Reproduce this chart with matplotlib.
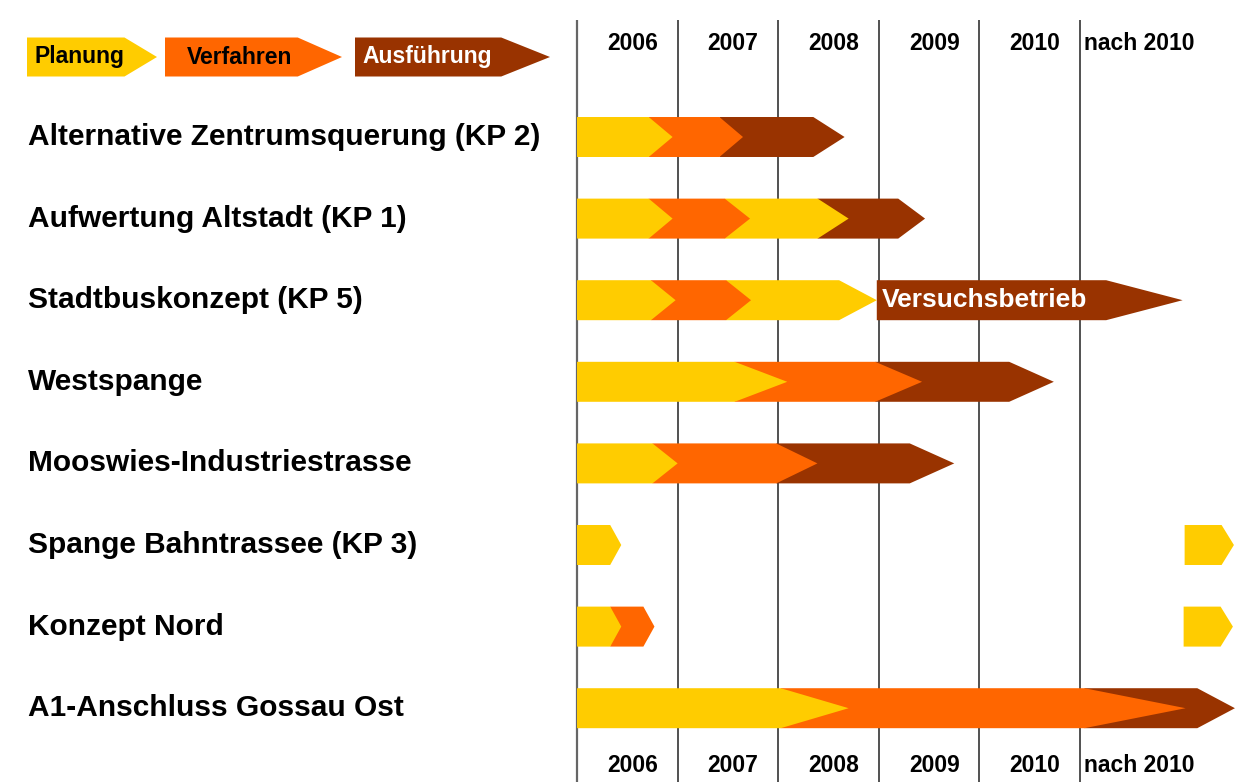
import matplotlib.pyplot as plt
from matplotlib.patches import Polygon
from matplotlib.transforms import blended_transform_factory

# Zeilen und Phasen (Werte in Jahren, jeweils Spitze des Pfeils)
zeilen = ["Alternative Zentrumsquerung (KP 2)", "Aufwertung Altstadt (KP 1)",
          "Stadtbuskonzept (KP 5)", "Westspange", "Mooswies-Industriestrasse",
          "Spange Bahntrassee (KP 3)", "Konzept Nord", "A1-Anschluss Gossau Ost"]
phasen = [["P", "V", "A"], ["P", "V", "P", "A"], ["P", "V", "P"], ["P", "V", "A"],
          ["P", "V", "A"], ["P"], ["P", "V"], ["P", "V", "A"]]
enden = [[2006.95, 2007.65, 2008.66],
         [2006.95, 2007.72, 2008.70, 2009.46],
         [2006.98, 2007.73, 2008.98],
         [2008.09, 2009.43, 2010.74],
         [2007.00, 2008.39, 2009.75],
         [2006.44],
         [2006.44, 2006.77],
         [2008.70, 2012.05, 2012.54]]
beginn = 2006.0

# Planung nach 2010 (Zeile, Start, Ende)
nachher_zeile = [5, 6]
nachher_start = [2012.04, 2012.03]
nachher_ende = [2012.53, 2012.52]

# Versuchsbetrieb Stadtbus
versuch_zeile = 2
versuch_start = 2008.98
versuch_ende = 2012.02

jahre = [2006, 2007, 2008, 2009, 2010, 2011]
spalten = ["2006", "2007", "2008", "2009", "2010", "nach 2010"]

farben = {"P": "#FFCC00", "V": "#FF6600", "A": "#993300"}
legende = [("Planung", "P", "black"), ("Verfahren", "V", "black"), ("Ausführung", "A", "white")]


def pfeil(ax, x0, x1, y, h, farbe, z, transform=None):
    xb = x0 + 0.75 * (x1 - x0)
    pts = [(x0, y - h / 2), (xb, y - h / 2), (x1, y), (xb, y + h / 2), (x0, y + h / 2)]
    kw = {} if transform is None else {"transform": transform}
    ax.add_patch(Polygon(pts, closed=True, facecolor=farbe, edgecolor="none", zorder=z, **kw))


W, H = 1238, 782
fig = plt.figure(figsize=(W / 100, H / 100), dpi=100)
ax = fig.add_axes([0, 0, 1, 1])
ax.axis("off")

pxj = 100.6          # Pixel pro Jahr
dz = 81.6            # Pixel pro Zeile
x_links = 2006 - 577 / pxj
ax.set_xlim(x_links, x_links + W / pxj)
ax.set_ylim((H - 137) / dz, -137 / dz)

y_oben = (20 - 137) / dz
ax.vlines(jahre[:1], y_oben, (H - 137) / dz, colors="#666666", linewidth=1.6, zorder=1)
ax.vlines(jahre[1:], y_oben, (H - 137) / dz, colors="#222222", linewidth=1.1, zorder=1)

for j, s in zip(jahre, spalten):
    if s.startswith("nach"):
        xs, ha = j + 0.04, "left"
    else:
        xs, ha = j + 0.55, "center"
    for yy in [(43 - 137) / dz, (766 - 137) / dz]:
        ax.text(xs, yy, s, ha=ha, va="center", fontsize=16.5, fontweight="bold",
                family="Liberation Sans", zorder=3)

h = 0.49
trans_y = blended_transform_factory(ax.transAxes, ax.transData)
for i, name in enumerate(zeilen):
    ax.text(28 / W, i, name, transform=trans_y, ha="left", va="center",
            fontsize=21.5, fontweight="bold", family="Liberation Sans")
    start = beginn
    n = len(enden[i])
    for k, (p, e) in enumerate(zip(phasen[i], enden[i])):
        pfeil(ax, start, e, i, h, farben[p], 10 + n - k)
        start = start + 0.75 * (e - start)

for zi, s, e in zip(nachher_zeile, nachher_start, nachher_ende):
    pfeil(ax, s, e, zi, h, farben["P"], 10)

pfeil(ax, versuch_start, versuch_ende, versuch_zeile, h, farben["A"], 9)
ax.text(versuch_start + 0.05, versuch_zeile, "Versuchsbetrieb", ha="left", va="center",
        color="white", fontsize=19, fontweight="bold", family="Liberation Sans", zorder=20)

# Legende oben links
leg_x = [(27, 157), (165, 342), (355, 550)]
leg_text_x = [35, 187, 362]
yl = 1 - 57 / H
hl = 39 / H
for (txt, p, tc), (a, b), tx in zip(legende, leg_x, leg_text_x):
    pfeil(ax, a / W, b / W, yl, hl, farben[p], 5, transform=ax.transAxes)
    ax.text(tx / W, yl, txt, transform=ax.transAxes, ha="left", va="center",
            color=tc, fontsize=16.5, fontweight="bold", family="Liberation Sans", zorder=6)

fig.savefig("out.png", dpi=100)
